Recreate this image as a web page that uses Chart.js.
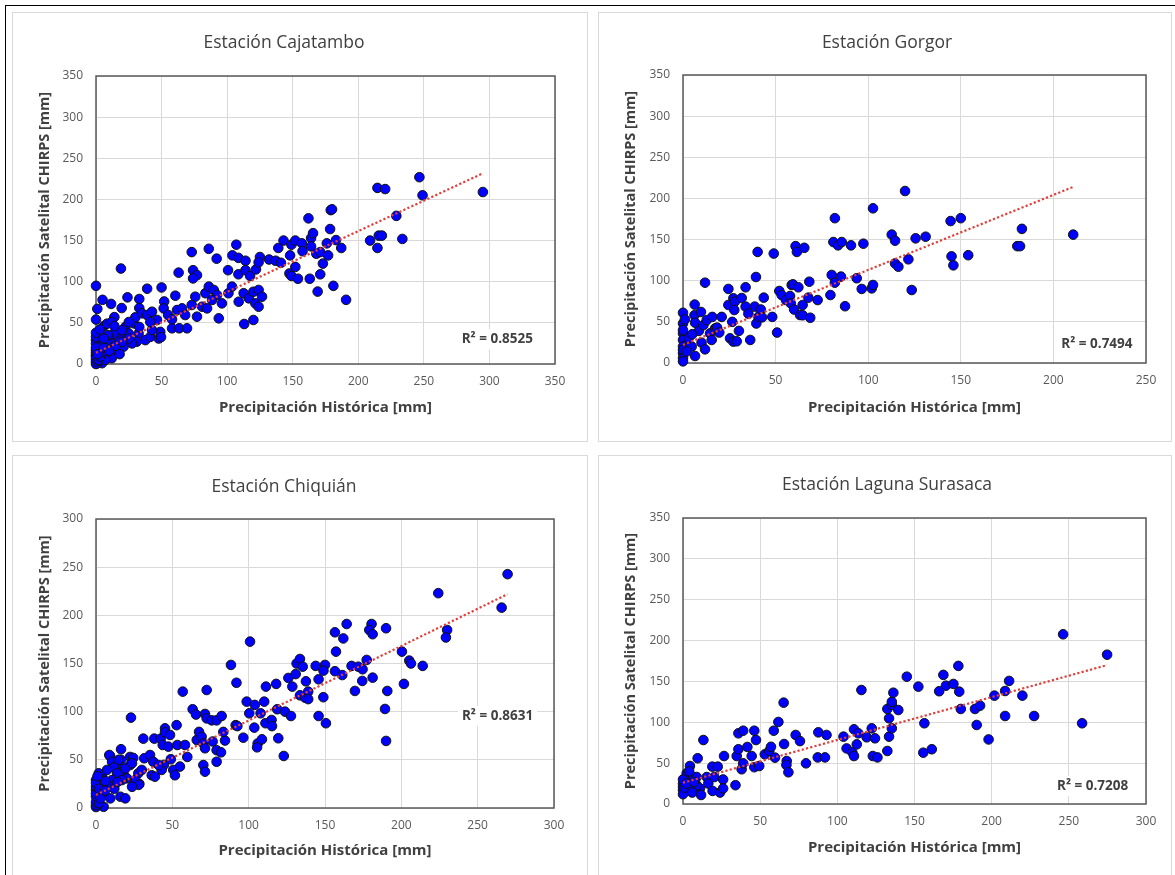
<!DOCTYPE html>
<html>
<head>
<meta charset="utf-8">
<script src="https://cdn.jsdelivr.net/npm/chart.js@4.4.1/dist/chart.umd.min.js"></script>
<style>
  body { margin: 0; background: #fff; }
  .frame { position: absolute; left: 5px; top: 5px; width: 1180px; height: 880px; border-top: 1px solid #000; border-left: 1px solid #000; }
  .panel { position: absolute; border: 1px solid #d9d9d9; background: #fff; overflow: hidden; }
  .panel canvas { position: absolute; left: 0; top: 0; }
</style>
</head>
<body>
<div class="frame"></div>
<div class="panel" style="left:12px;top:12px;width:574px;height:428px;"><canvas id="c1" width="572" height="426"></canvas></div>
<div class="panel" style="left:598px;top:12px;width:572px;height:428px;"><canvas id="c2" width="570" height="426"></canvas></div>
<div class="panel" style="left:12px;top:455px;width:574px;height:440px;"><canvas id="c3" width="572" height="419"></canvas></div>
<div class="panel" style="left:598px;top:455px;width:572px;height:440px;"><canvas id="c4" width="570" height="419"></canvas></div>
<script>
// Estación Cajatambo
const cajatamboHist = [0,19,5,1,0,11.5,19.6,14,6,24,33,33,39,50,52,60.5,63,73,74,77,74,86,92,100.7,107,104,108.6,114,108.6,114,117.5,122,125,124,132,139,137,141,143,148,149,152,157,157.5,152,147.5,149,154,162,164,165.5,164,168,171,173,171,163,169,176,177,178.5,179,180,183,187,181,190.7,
  214.6,220.5,246.6,249,229,215.6,218,209,214.6,233.6,295,
  8.4,12,28.7,30,22.4,25,35,39,42.7,46.5,51.6,55,58,63.5,69.4,58,61.8,65.6,68,73,75.7,77,80.9,83.4,86,89.8,92.3,88.5,84.7,93.6,96,101,103.7,108.8,112.6,116.5,120,124,126.6,121.5,124,120,113,
  37.6,41.4,47.8,49,42.7,32.5,31,27.5,18.6,14.7,12,9.7,4.6,2,0,0,7,4.6,1,12,17,21,25,33,41.4,12,7,0,0,0,3,8.4,13.5,19.8,25,
  0,0,0,0,0,0,0,2,3,5,1,6,10,15,20,18,9,6,3,14,49.6];
const cajatamboChirps = [95,116,78,67,54,73,68,57,46,81,79,68,91.5,93,76,83,111,136,114,108,104,140,128,114,145,132,129,125.5,109,114,107,115,130,123.6,127,141,125.5,123,150,132,145,150,146.6,137,118,110,107,103.6,177,153,159,143,134,136,122,109,103.6,88,146.6,132,164,187,188,150.6,141,95,78,
  214,212.6,227,205,180,156,156,150,141,152,209,
  49,51,49.4,56.7,45,37,61.6,59.5,63.5,53.5,67.6,59.5,43.4,43.4,43.4,54.3,65.6,67.6,59.5,71.7,81.8,57.5,69.6,86,94,90,83.8,77.8,67.6,55.5,73.7,86,94,75.7,86,79.8,87.8,90,81.8,73.7,69.6,53.5,48.6,
  29,33,31,39,41.3,37,27,25,33,29,25,21,25,17,29,11,13,1,1,11,17,21,31,45,51,7,5,25,33,17,21,29,37,41,51,
  0,3,6,9,14,20,38,5,9,15,12,20,16,22,27,12,35,31,42,46,32.7];
const cajatamboTrendX = [0, 295];
const cajatamboTrendY = [13.7, 231.7];

// Estación Gorgor
const gorgorHist = [0,0,0,0,0,0,0,4.7,6.5,6.3,6.2,6.5,9.7,8.6,11,12.8,11.9,10,11.9,14.6,15.8,17.3,18.4,19.6,20.9,15.5,24.5,24.5,27.2,28,27.7,26.6,25.4,27.2,29,30.2,31.7,33.8,33.8,35.3,36.3,39.4,40.3,38.7,39.6,40.7,42,42.7,43.6,48.2,49,50.8,52,53.3,55.6,57.8,58.7,59.4,58.2,60,62.3,60.8,61.5,65.5,63.2,64.6,64.6,68.2,67.7,68.7,72.7,79.6,80.3,82,81.2,83.7,85.7,82,85.3,87.5,90.7,93.8,96.5,97.4,102.6,101.9,102.6,112.7,114.5,114.5,116.3,119.9,121.7,123.5,125.6,131,144.5,150,145,146,154,180.5,182,183,210.7,
  0,0,0,2,3,1,5];
const gorgorChirps = [61,48,36,28,20,12,6,20,8.5,71,58,49,62,39,46,52,97.6,24.7,16.6,36,56,42,43,37,56,28,90,70.5,78.6,74.6,64.4,50,30,26,26.4,39,79,92,68.5,60,28,104.5,135,68.5,48,56,65,55.5,79.4,56,133,37,87.5,82.6,76.5,81.4,94.8,95.5,72.5,65,92,142,135,140,58.3,70.5,58,98.8,79.4,55,76.5,82.6,107,176,147,143,147,97.6,105,69,143,103,90,145,188,90.7,94.8,156,148.6,121,117,209,126,88.7,151.5,153.5,172.5,176,129.6,118.7,131,142,142,163,156,
  2,16,40,14,30,53,35];
const gorgorTrendX = [0, 210.7];
const gorgorTrendY = [22, 214];

// Estación Chiquián
const chiquianHist = [22.9,9.2,16.4,16.4,11,13.5,17.9,22.3,22.3,24.4,27.7,28.4,31,31.6,35.4,37.5,38.2,36.5,38.6,42.4,43.7,45.2,45.2,48.5,47.4,44.5,43,49,50.6,51.7,53.3,52.8,55,56.8,58.3,59.8,63.3,65.5,66,67.5,69.2,70.3,71.4,70.3,71.4,72.5,71.4,72.5,75.8,79,82.3,76.4,79,79,81.9,84.5,83.4,88.4,92,91.5,92.6,96.5,98.7,100.9,100.4,104,103.7,105.9,105.5,108.7,107.8,110.2,111.3,111,115,115.3,118,118.7,119.4,123,123.8,126,127.7,128.6,130.8,131.4,133.6,135.4,137.5,133.6,136.9,139,139,143.9,145.8,148.9,145.8,150.6,150,149,156.5,157.2,156.5,
  164.2,162,161.3,167.4,171.8,174.6,177.3,180.5,179,181.2,190,174.4,181.2,169.6,190.8,189.3,190,200.4,205.2,206.3,214,201.7,224.2,230,229.2,265.7,269.6,
  8.7,10.5,14.8,11.6,13.8,19.2,23.6,20.3,25.7,28,23.6,17,10.5,8.3,4,1.7,0,4,0.5,5,9.4,16,19.2,0,0,1.8,7.2,30,41,
  0,0,0,0,0,0,2,3,2,6,12,14,6,1];
const chiquianChirps = [93.8,54,61,50,46.4,43,36,53,44.6,52,36,25,72,51.6,55,48,72,34,32.5,72,65.4,82.7,78.6,75.8,63.7,44.7,39.5,50.6,39.5,34,65.4,86,43,120.8,65.4,53,102.5,97,70.6,79,74,67,62,44.6,37.7,122.5,97.6,93,91,91,95.5,69,60,48,57.8,70,79,148.5,130,86,85,73,110.4,172.7,98.3,107,83.4,67,63,71.3,98.3,110.4,126,88,91.4,85,128.8,102.5,72.4,54,100,135,95.5,126,139,150,154.7,146.7,131.5,117,114.5,120.8,113,147.5,133.6,115,95.5,88,148.5,142.6,182.4,162.3,142,
  191,176,138,147.5,146.7,144,153.7,191,184.8,180.4,186.6,131.9,135.3,121.5,121.5,102.8,69.6,162.3,153,150,147.5,128.8,223,184.8,177,208,242.7,
  55,48,50,42,36,41,46.4,30.8,29,24,22,29,29,22,32.5,25.6,18.7,15,8.3,1.3,10,11.7,10,1,29,36,39.5,39.5,44.6,
  3,6,12,15,22,26,5,10,20,18,20,27,28,33];
const chiquianTrendX = [0, 269.6];
const chiquianTrendY = [13.5, 222];

// Estación Laguna Surasaca
const surasacaHist = [0,0,0,2.4,4.5,3.4,3.4,6.7,8.9,9.5,13.2,11,11.7,8.9,15.4,16.4,19,22.5,20.3,19.2,24,26,26,26.6,34,34.8,35.9,35.9,39,38,39,41.7,44.5,46.2,47.3,46.2,49.4,53,55.9,57,58.8,59.6,61.8,65.2,65.5,67.2,67,68.3,73,75.8,79.7,87.7,87.3,92,93,104,106,110.8,109.7,110.8,112.6,113.6,115.6,119,122.3,124.4,123,126,132.4,133.5,133.5,132.4,135.3,135.3,136.3,135.3,139.5,145,152.5,156.4,155.7,161.2,168.7,170.4,175.2,178.4,179,166,180,189.2,192.5,190.3,198,201.8,208.7,211.3,208.7,219.9,227.5,246.3,258.6,274.8,
  0,0,1,5,6,2,7,4];
const surasacaChirps = [25,17,21,37.6,46.5,29,17,33,33,56,78.3,19,11,23,33,25,45.7,45.7,33,16,14,30,19,58.7,23,58.7,86.5,67,89.7,42.5,49.8,69.8,58.7,89.7,78.3,45,46.5,60.8,64.9,70,89.7,56.7,100.4,124,73.4,52.6,47.7,38.8,84.5,77,49.8,87.7,57,57,84.5,82.4,68,91.4,63.3,58.7,73,86.5,139.5,81.6,92.6,80.4,58.7,57,64.9,82.4,104.9,116.3,121.2,125,136.2,92.6,115,155.8,143.6,98.8,62.8,67,158,144.8,146.9,169,137.5,138,116.3,116.3,120.3,96.7,79,132.6,138.3,150.6,107.7,132.6,107.7,207.7,98.8,182.7,
  30,12,20,22,14,25,27,40];
const surasacaTrendX = [0, 274.8];
const surasacaTrendY = [26, 170];

const FONT = '"Open Sans", "DejaVu Sans", sans-serif';

// plot area outline + R² label, drawn under the points
const frameBox = {
  id: 'frameBox',
  beforeDatasetsDraw(chart, args, opts) {
    const { ctx, chartArea: a } = chart;
    ctx.save();
    ctx.strokeStyle = '#595959';
    ctx.lineWidth = 1.5;
    ctx.strokeRect(a.left, a.top, a.right - a.left, a.bottom - a.top);
    const px = chart.scales.x.getPixelForValue(opts.x);
    const py = chart.scales.y.getPixelForValue(opts.y);
    ctx.font = 'bold 13.5px ' + FONT;
    const w = ctx.measureText(opts.text).width;
    ctx.fillStyle = '#fff';
    ctx.fillRect(px - w / 2 - 4, py - 10, w + 8, 20);
    ctx.fillStyle = '#404040';
    ctx.textAlign = 'center';
    ctx.textBaseline = 'middle';
    ctx.fillText(opts.text, px, py);
    ctx.restore();
  }
};

function makeChart(id, c) {
  new Chart(document.getElementById(id), {
    type: 'scatter',
    data: {
      datasets: [
        {
          data: c.trendX.map((x, i) => ({ x: x, y: c.trendY[i] })),
          showLine: true,
          borderColor: '#e0403a',
          borderWidth: 2.2,
          borderDash: [2.2, 2.2],
          pointRadius: 0,
          clip: false
        },
        {
          data: c.hist.map((x, i) => ({ x: x, y: c.chirps[i] })),
          pointRadius: 4.8,
          pointBackgroundColor: '#0000ff',
          pointBorderColor: '#111',
          pointBorderWidth: 1,
          clip: 10
        }
      ]
    },
    options: {
      responsive: false,
      animation: false,
      layout: { padding: { left: c.padL, right: c.padR, top: 0, bottom: 0 } },
      plugins: {
        legend: { display: false },
        tooltip: { enabled: false },
        title: {
          display: true,
          text: c.title,
          color: '#404040',
          font: { family: FONT, size: 17.5, weight: 'normal' },
          padding: { top: c.titleTop, bottom: c.titleBottom }
        },
        frameBox: { text: c.r2, x: c.r2x, y: c.r2y }
      },
      scales: {
        x: {
          type: 'linear', min: 0, max: c.xMax,
          ticks: { stepSize: 50, autoSkip: false, maxRotation: 0, color: '#595959', padding: 10, font: { family: FONT, size: 12 } },
          grid: { color: '#d9d9d9', drawTicks: false },
          border: { display: false },
          title: { display: true, text: 'Precipitación Histórica [mm]', color: '#404040', font: { family: FONT, size: 15, weight: 'bold' }, padding: { top: 0, bottom: c.xTitlePad } },
          afterFit: (s) => { s.height = c.xAxisH; }
        },
        y: {
          type: 'linear', min: 0, max: c.yMax,
          ticks: { stepSize: 50, autoSkip: false, color: '#595959', padding: 13, font: { family: FONT, size: 12 } },
          grid: { color: '#d9d9d9', drawTicks: false },
          border: { display: false },
          title: { display: true, text: 'Precipitación Satelital CHIRPS [mm]', color: '#404040', font: { family: FONT, size: 14.5, weight: 'bold' }, padding: { top: c.yTitlePad, bottom: 0 } },
          afterFit: (s) => { s.width = c.yAxisW; }
        }
      }
    },
    plugins: [frameBox]
  });
}

makeChart('c1', {
  title: 'Estación Cajatambo', hist: cajatamboHist, chirps: cajatamboChirps,
  trendX: cajatamboTrendX, trendY: cajatamboTrendY, xMax: 350, yMax: 350,
  r2: 'R² = 0.8525', r2x: 306, r2y: 30,
  padL: 0, padR: 30, titleTop: 19.5, titleBottom: 22.5, xAxisH: 75, xTitlePad: 22, yAxisW: 83, yTitlePad: 23.3
});
makeChart('c2', {
  title: 'Estación Gorgor', hist: gorgorHist, chirps: gorgorChirps,
  trendX: gorgorTrendX, trendY: gorgorTrendY, xMax: 250, yMax: 350,
  r2: 'R² = 0.7494', r2x: 223.5, r2y: 23,
  padL: 29, padR: 23, titleTop: 19.5, titleBottom: 21.5, xAxisH: 76, xTitlePad: 22, yAxisW: 55, yTitlePad: -5.7
});
makeChart('c3', {
  title: 'Estación Chiquián', hist: chiquianHist, chirps: chiquianChirps,
  trendX: chiquianTrendX, trendY: chiquianTrendY, xMax: 300, yMax: 300,
  r2: 'R² = 0.8631', r2x: 263, r2y: 95.5,
  padL: 1, padR: 31, titleTop: 20.5, titleBottom: 21.5, xAxisH: 67, xTitlePad: 15, yAxisW: 82, yTitlePad: 22.3
});
makeChart('c4', {
  title: 'Estación Laguna Surasaca', hist: surasacaHist, chirps: surasacaChirps,
  trendX: surasacaTrendX, trendY: surasacaTrendY, xMax: 300, yMax: 350,
  r2: 'R² = 0.7208', r2x: 265.4, r2y: 22,
  padL: 29, padR: 23, titleTop: 18.5, titleBottom: 22.5, xAxisH: 71, xTitlePad: 18, yAxisW: 55, yTitlePad: -5.7
});
</script>
</body>
</html>
